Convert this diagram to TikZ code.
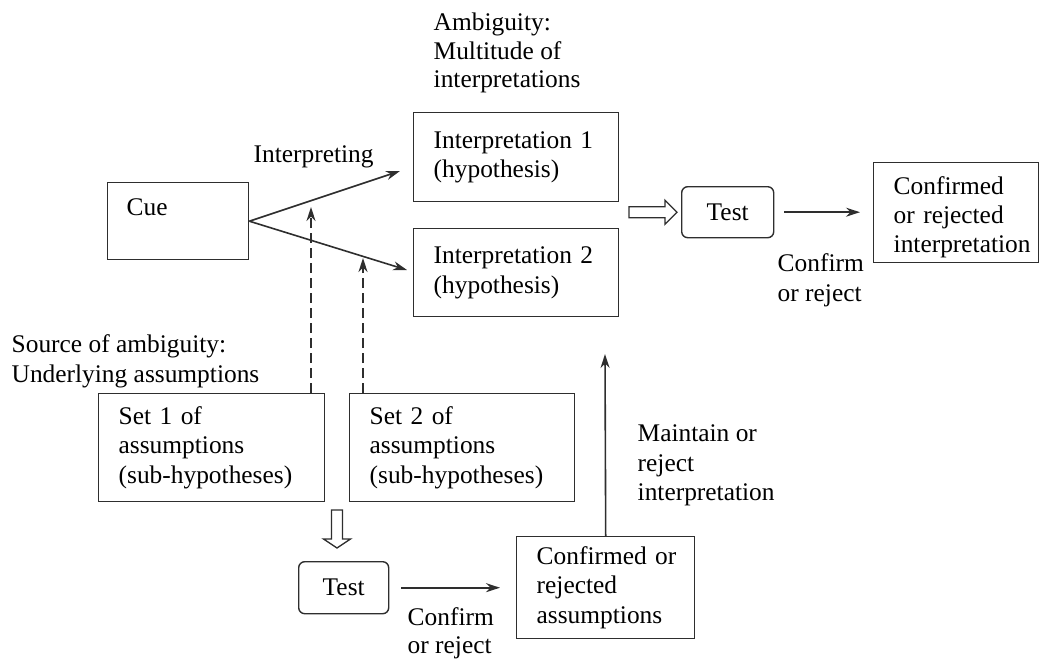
\documentclass[tikz,border=0pt]{standalone}
\usepackage{fontspec}
\setmainfont{Liberation Serif}
\usetikzlibrary{arrows.meta}
\begin{document}
\begin{tikzpicture}[x=1pt,y=-1pt,
  font=\fontsize{25.4pt}{29.3pt}\selectfont,
  line width=1.4pt, color=black!82, text=black,
  box/.style n args={2}{draw, anchor=north west, inner xsep=20pt, inner ysep=0pt,
    text width=#1, minimum height=#2, align=left},
  testbox/.style n args={2}{draw, rounded corners=6pt, anchor=north west, inner sep=0pt,
    minimum width=#1, minimum height=#2, align=center},
  lab/.style={anchor=north west, inner sep=0pt, align=left},
  arr/.style={line width=1.6pt, -{Stealth[length=14pt,width=9pt,inset=4.5pt]}},
  dasharr/.style={arr, dash pattern=on 10pt off 5pt},
  hollow/.style={line width=1.3pt, fill=white, line join=miter}]
\useasboundingbox (0,0) rectangle (1042,659);

% boxes (text width = box width - 40)
\node[box={103pt}{0pt}, inner xsep=19pt, text height=33pt, text depth=44pt] (cue) at (107,182) {Cue};
\node[box={165pt}{89pt}] (i1) at (413,112) {Interpretation 1\\(hypothesis)};
\node[box={165pt}{88pt}] (i2) at (413,228) {Interpretation 2\\(hypothesis)};
\node[testbox={92pt}{51pt}] (t1) at (681,186) {Test};
\node[box={125pt}{100pt}] (c1) at (873,162) {Confirmed\\or rejected\\\mbox{interpretation}\par\vspace*{-9pt}};
\node[box={186pt}{108pt}] (s1) at (98,393) {Set 1 of\\assumptions\\(sub-hypotheses)};
\node[box={185pt}{108pt}] (s2) at (349,393) {Set 2 of\\assumptions\\(sub-hypotheses)};
\node[testbox={90pt}{52pt}] (t2) at (298,561) {Test};
\node[box={138pt}{102pt}] (c2) at (516,536) {\mbox{Confirmed or}\\rejected\\assumptions};

% labels
\node[lab] (amb) at (433,9.5) {\strut Ambiguity:\\[-0.8pt]Multitude of\\[-0.8pt]interpretations};
\node[anchor=base west, inner sep=0pt] (interp) at (253,162) {Interpreting};
\node[lab] (src) at (11,331.5) {\strut Source of ambiguity:\\Underlying assumptions};
\node[lab] (maint) at (637,420.5) {\strut Maintain or\\reject\\interpretation};
\node[lab] (conf1) at (777,250.5) {\strut Confirm\\or reject};
\node[lab] (conf2) at (407,604.5) {\strut Confirm\\[-2pt]or reject};

% free ends
\coordinate (a1) at (400,171);
\coordinate (a2) at (407,270);
\coordinate (d1) at (311,207);
\coordinate (d2) at (363,258);
\coordinate (v1) at (605,354);
\coordinate (h2) at (337,548);

% connectors
\draw[arr] (cue.east) -- (a1);
\draw[arr] (cue.east) -- (a2);
\draw[dasharr] (s1.north -| d1) -- (d1);
\draw[dasharr] (s2.north -| d2) -- (d2);
\draw[arr] ([xshift=10pt]t1.east) -- ([xshift=-13pt]t1.east -| c1.west);
\draw[arr] ([xshift=12pt]t2.east) -- ([xshift=-16pt]t2.east -| c2.west);
\draw[arr] (c2.north) -- (v1);

% hollow arrows
\draw[hollow] ([xshift=-4pt]t1.west) -- ++(-12,-12) -- ++(0,6.5) -- ++(-36,0)
  -- ++(0,11) -- ++(36,0) -- ++(0,6.5) -- cycle;
\draw[hollow] (h2) -- ++(-13.5,-9) -- ++(8,0) -- ++(0,-29) -- ++(11,0)
  -- ++(0,29) -- ++(8,0) -- cycle;
\end{tikzpicture}
\end{document}
